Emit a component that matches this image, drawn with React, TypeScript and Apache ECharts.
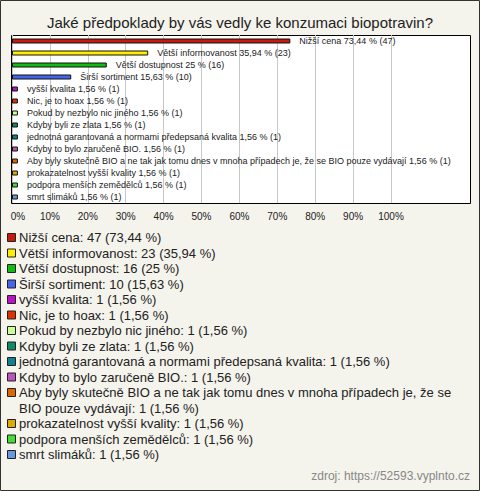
import React, { useEffect, useRef } from "react";
import * as echarts from "echarts";

const title = "Jaké předpoklady by vás vedly ke konzumaci biopotravin?";
const categories = [
  "Nižší cena",
  "Větší informovanost",
  "Větší dostupnost",
  "Širší sortiment",
  "vyšší kvalita",
  "Nic, je to hoax",
  "Pokud by nezbylo nic jiného",
  "Kdyby byli ze zlata",
  "jednotná garantovaná a normami předepsaná kvalita",
  "Kdyby to bylo zaručeně BIO.",
  "Aby byly skutečně BIO a ne tak jak tomu dnes v mnoha případech je, že se BIO pouze vydávají",
  "prokazatelnost vyšší kvality",
  "podpora menších zemědělců",
  "smrt slimáků",
];
const counts = [47, 23, 16, 10, 1, 1, 1, 1, 1, 1, 1, 1, 1, 1];
const percents = [73.44, 35.94, 25, 15.63, 1.56, 1.56, 1.56, 1.56, 1.56, 1.56, 1.56, 1.56, 1.56, 1.56];
const colors = [
  "#c41c0c", "#ffee00", "#11bb11", "#4466ee", "#bb11cc", "#dd3300", "#ccff99",
  "#118866", "#118090", "#bb55bb", "#dd6600", "#ddaa00", "#44dd33", "#6699dd",
];
const tickValues = [0, 10, 20, 30, 40, 50, 60, 70, 80, 90, 100];
const source = "zdroj: https://52593.vyplnto.cz";

const FONT = "Liberation Sans, Arial, sans-serif";
const fmt = (v: number) => String(v).replace(".", ",");

export default function App() {
  const ref = useRef<HTMLDivElement>(null);
  useEffect(() => {
    if (!ref.current) return;
    const chart = echarts.init(ref.current, null, { renderer: "svg" });

    const legendTop = 238;
    const lineH = 15.5;
    const legendItems: any[] = [];
    let line = 0;
    categories.forEach((c, i) => {
      const y = legendTop + line * lineH;
      const text = `${c}: ${counts[i]} (${fmt(percents[i])} %)`;
      const wraps = text.length > 80;
      legendItems.push({
        type: "rect",
        shape: { x: 7.5, y: y - 4.5, width: 8, height: 8 },
        style: { fill: colors[i], stroke: "#222", lineWidth: 1 },
      });
      legendItems.push({
        type: "text",
        x: 19,
        y: y - 8,
        style: {
          text,
          fill: "#222",
          fontSize: 13,
          fontFamily: FONT,
          width: 474,
          overflow: "break",
          lineHeight: lineH,
          verticalAlign: "top",
        },
      });
      line += wraps ? 2 : 1;
    });

    chart.setOption({
      animation: false,
      backgroundColor: "#f4f3ec",
      title: {
        text: title,
        left: "center",
        top: 10,
        textStyle: { fontSize: 15, fontWeight: "normal", color: "#222", fontFamily: FONT },
      },
      grid: { left: 12, right: 89, top: 35, height: 168 },
      xAxis: {
        type: "value",
        min: 0,
        max: 100,
        interval: 10,
        axisLine: { show: false },
        axisTick: { show: false },
        splitLine: { show: true, lineStyle: { color: "#c8c8c8", width: 1 } },
        axisLabel: {
          margin: 8,
          fontSize: 10,
          color: "#222",
          fontFamily: FONT,
          formatter: (v: number) => (tickValues.includes(v) ? (v === 0 ? "{f|0%}" : `${v}%`) : ""),
          rich: { f: { fontSize: 10, color: "#222", fontFamily: FONT, padding: [0, 0, 0, 12] } },
        },
      },
      yAxis: {
        type: "category",
        inverse: true,
        data: categories,
        axisLine: { show: false },
        axisTick: { show: false },
        axisLabel: { show: false },
        splitLine: { show: false },
      },
      graphic: [
        {
          type: "rect",
          z: -10,
          shape: { x: 0.5, y: 0.5, width: 479, height: 490 },
          style: { fill: "#f4f3ec", stroke: "#333", lineWidth: 1 },
        },
        {
          type: "rect",
          z: -5,
          shape: { x: 11.5, y: 35.5, width: 459, height: 168 },
          style: { fill: "#ffffff", stroke: "#000", lineWidth: 1 },
        },
        ...legendItems,
        {
          type: "text",
          right: 10,
          top: 470,
          style: { text: source, fill: "#888", fontSize: 12, fontFamily: FONT },
        },
      ],
      series: [
        {
          type: "bar",
          barWidth: 5,
          data: percents.map((p, i) => ({
            value: p,
            itemStyle: { color: colors[i], borderColor: "#111", borderWidth: 1 },
          })),
          label: {
            show: true,
            position: "right",
            distance: 9,
            fontSize: 9,
            color: "#222",
            fontFamily: FONT,
            formatter: (p: any) => `${p.name} ${fmt(percents[p.dataIndex])} % (${counts[p.dataIndex]})`,
          },
        },
      ],
    });
    return () => chart.dispose();
  }, []);
  return (
    <div
      ref={ref}
      style={{ position: "fixed", left: 0, top: 0, width: 480, height: 491 }}
    />
  );
}
